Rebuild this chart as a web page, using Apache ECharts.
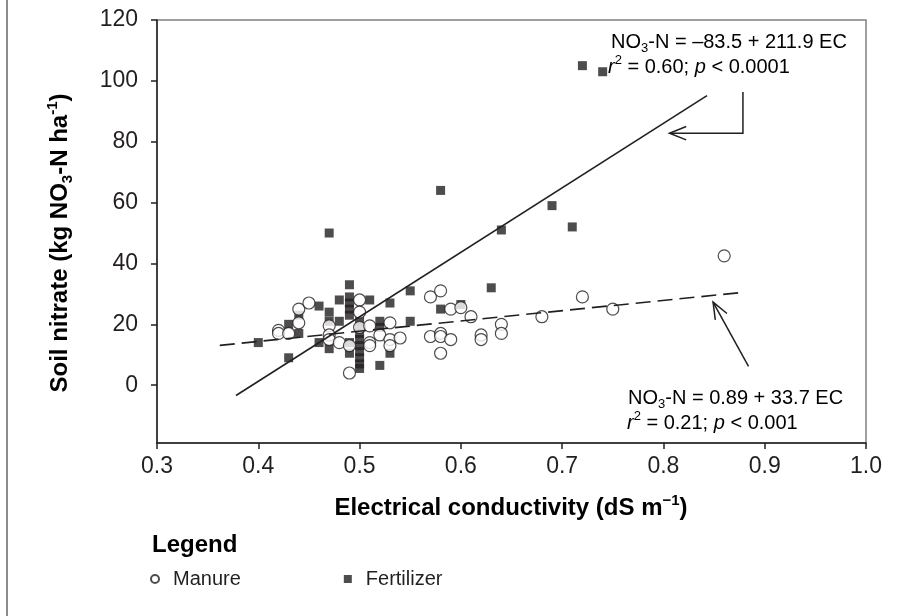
<!DOCTYPE html>
<html>
<head>
<meta charset="utf-8">
<script src="https://cdn.jsdelivr.net/npm/echarts@6/dist/echarts.min.js"></script>
<style>
html, body { margin: 0; padding: 0; background: #fff; }
#chart { width: 914px; height: 616px; }
</style>
</head>
<body>
<div id="chart"></div>
<script>
// EC (dS/m) vs soil nitrate (kg NO3-N/ha)
var manure = [
    [0.42, 18], [0.42, 17], [0.43, 17], [0.44, 20.5], [0.44, 25], [0.45, 27],
    [0.47, 19.5], [0.47, 16.5], [0.47, 15], [0.48, 14], [0.49, 13], [0.49, 4],
    [0.50, 28], [0.50, 24], [0.50, 19], [0.51, 19.5], [0.51, 14], [0.51, 13],
    [0.52, 16.5], [0.53, 20.5], [0.53, 15], [0.53, 13], [0.54, 15.5],
    [0.57, 29], [0.57, 16], [0.58, 31], [0.58, 17], [0.58, 16], [0.58, 10.5],
    [0.59, 25], [0.59, 15], [0.60, 25.5], [0.61, 22.5], [0.62, 16.5], [0.62, 15],
    [0.64, 20], [0.64, 17], [0.68, 22.5], [0.72, 29], [0.75, 25], [0.86, 42.5]
];
var fertilizer = [
    [0.40, 14], [0.43, 20], [0.43, 9], [0.44, 23], [0.44, 17], [0.46, 26], [0.46, 14],
    [0.47, 50], [0.47, 24], [0.47, 21], [0.47, 12], [0.48, 28], [0.48, 21],
    [0.49, 33], [0.49, 29], [0.49, 27], [0.49, 25], [0.49, 23], [0.49, 14], [0.49, 10.5],
    [0.50, 21], [0.50, 19], [0.50, 17], [0.50, 15], [0.50, 13], [0.50, 11], [0.50, 9], [0.50, 7], [0.50, 5.5],
    [0.51, 28], [0.52, 21], [0.52, 19], [0.52, 6.5], [0.53, 27], [0.53, 10.5],
    [0.55, 31], [0.55, 21], [0.58, 64], [0.58, 25], [0.60, 26.5], [0.63, 32],
    [0.64, 51], [0.69, 59], [0.71, 52], [0.72, 105], [0.74, 103]
];
// regression: [intercept, slope] and the EC range the line covers
var fertFit = [-83.5, 211.9];
var fertRange = [0.378, 0.843];
var manureFit = [0.89, 33.7];
var manureRange = [0.362, 0.875];
var yTicks = [0, 20, 40, 60, 80, 100, 120];

var ink = '#231f20';
var font = 'Liberation Sans';

function fitLine(coef, range) {
    return range.map(function (x) { return [x, coef[0] + coef[1] * x]; });
}

var richBase = {
    n: { fontFamily: font, fontSize: 20, color: ink, lineHeight: 26, verticalAlign: 'middle' },
    i: { fontFamily: font, fontSize: 20, color: ink, fontStyle: 'italic', lineHeight: 26, verticalAlign: 'middle' },
    sub: { fontFamily: font, fontSize: 13, color: ink, lineHeight: 15, verticalAlign: 'bottom' },
    sup: { fontFamily: font, fontSize: 13, color: ink, lineHeight: 15, verticalAlign: 'top' }
};
var richBold = {
    b: { fontFamily: font, fontSize: 24, fontWeight: 'bold', color: ink, lineHeight: 30, verticalAlign: 'middle' },
    sub: { fontFamily: font, fontSize: 15, fontWeight: 'bold', color: ink, lineHeight: 17, verticalAlign: 'bottom' },
    sup: { fontFamily: font, fontSize: 15, fontWeight: 'bold', color: ink, lineHeight: 17, verticalAlign: 'top' }
};

function label(x, y, text, rich, rot) {
    return {
        type: 'text', x: x, y: y, rotation: rot || 0, z: 10,
        style: { text: text, rich: rich, align: rot ? 'center' : 'left', verticalAlign: 'middle' }
    };
}

var myChart = echarts.init(document.getElementById('chart'));
var option = {
    animation: false,
    backgroundColor: '#fff',
    textStyle: { fontFamily: font },
    grid: { left: 157, right: 48, top: 20, bottom: 173, show: true, borderColor: '#808080', borderWidth: 1.5 },
    xAxis: {
        type: 'value', min: 0.3, max: 1.0, interval: 0.1,
        axisLine: { show: true, onZero: false, lineStyle: { color: ink, width: 1.5 } },
        axisTick: { show: true, length: 6, lineStyle: { color: ink, width: 1.5 } },
        axisLabel: { color: ink, fontSize: 23, fontFamily: font, margin: 12, formatter: function (v) { return v.toFixed(1); } },
        splitLine: { show: false }
    },
    yAxis: {
        type: 'value', min: -19, max: 120,
        axisLine: { show: true, onZero: false, lineStyle: { color: ink, width: 1.5 } },
        axisTick: { show: true, length: 6, customValues: yTicks, lineStyle: { color: ink, width: 1.5 } },
        axisLabel: { color: ink, fontSize: 23, fontFamily: font, margin: 19, customValues: yTicks },
        splitLine: { show: false }
    },
    legend: {
        data: ['Manure', 'Fertilizer'],
        left: 150, top: 569, padding: 0,
        itemWidth: 8, itemHeight: 8, itemGap: 103,
        textStyle: { color: ink, fontSize: 20, fontFamily: font, padding: [0, 0, 0, 9] }
    },
    series: [
        {
            name: 'Fertilizer', type: 'scatter', data: fertilizer,
            symbol: 'rect', symbolSize: 9, itemStyle: { color: ink }, z: 2
        },
        {
            name: 'Manure', type: 'scatter', data: manure,
            symbol: 'circle', symbolSize: 12,
            itemStyle: { color: '#fff', borderColor: ink, borderWidth: 1.2 }, z: 3
        },
        {
            name: 'fertFit', type: 'line', data: fitLine(fertFit, fertRange),
            showSymbol: false, silent: true, lineStyle: { color: ink, width: 1.6 }, z: 4
        },
        {
            name: 'manureFit', type: 'line', data: fitLine(manureFit, manureRange),
            showSymbol: false, silent: true, lineStyle: { color: ink, width: 1.6, type: [15, 7] }, z: 4
        }
    ],
    graphic: [
        { type: 'line', shape: { x1: 7, y1: 0, x2: 7, y2: 616 }, style: { stroke: '#8c8c8c', lineWidth: 2 } },
        label(60, 243, '{b|Soil nitrate (kg NO}{sub|3}{b|-N ha}{sup|-1}{b|)}', richBold, Math.PI / 2),
        { type: 'text', x: 511, y: 508, style: { text: '{b|Electrical conductivity (dS m}{sup|\u22121}{b|)}', rich: richBold, align: 'center', verticalAlign: 'middle' } },
        label(152, 545, '{b|Legend}', richBold),
        label(611, 42, '{n|NO}{sub|3}{n|-N = \u201383.5 + 211.9 EC}', richBase),
        label(608, 67, '{i|r}{sup|2}{n| = 0.60; }{i|p}{n| < 0.0001}', richBase),
        label(628, 398, '{n|NO}{sub|3}{n|-N = 0.89 + 33.7 EC}', richBase),
        label(627, 423, '{i|r}{sup|2}{n| = 0.21; }{i|p}{n| < 0.001}', richBase)
    ]
};
myChart.setOption(option);

// annotation arrows, given in data coordinates
var topArrow = [[0.8785, 96.3], [0.8785, 82.8], [0.806, 82.8]];
var lowArrow = [[0.884, 6.2], [0.849, 27.3]];

function arrowGraphics(pts) {
    var px = pts.map(function (p) { return myChart.convertToPixel({ gridIndex: 0 }, p); });
    var tip = px[px.length - 1], prev = px[px.length - 2];
    var ang = Math.atan2(prev[1] - tip[1], prev[0] - tip[0]);
    var len = 18, spread = 0.38;
    var a1 = [tip[0] + len * Math.cos(ang + spread), tip[1] + len * Math.sin(ang + spread)];
    var a2 = [tip[0] + len * Math.cos(ang - spread), tip[1] + len * Math.sin(ang - spread)];
    return [
        { type: 'polyline', shape: { points: px }, style: { stroke: ink, lineWidth: 1.5, fill: null }, z: 10 },
        { type: 'polyline', shape: { points: [a1, tip, a2] }, style: { stroke: ink, lineWidth: 1.5, fill: null }, z: 10 }
    ];
}
myChart.setOption({ graphic: option.graphic.concat(arrowGraphics(topArrow), arrowGraphics(lowArrow)) });
</script>
</body>
</html>
